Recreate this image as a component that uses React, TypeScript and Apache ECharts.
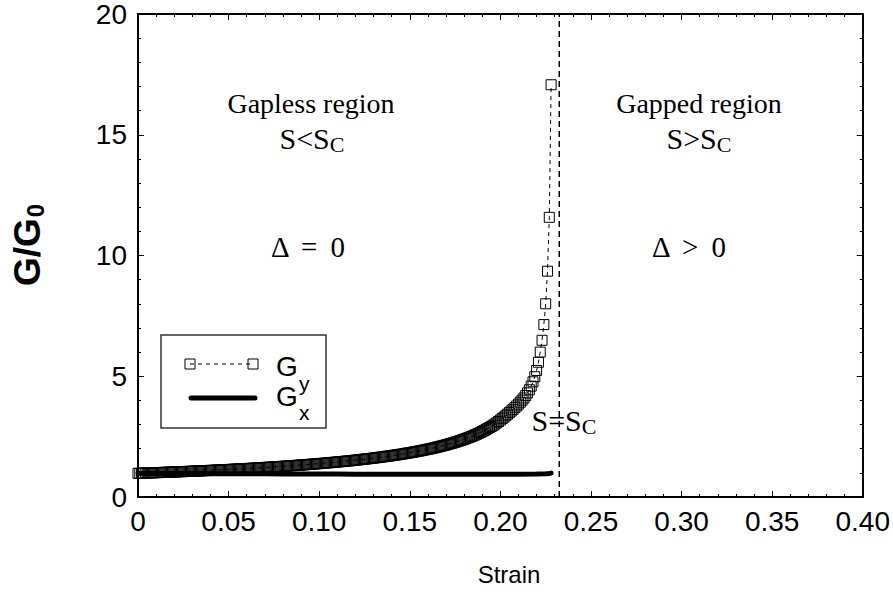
import React, { useEffect, useRef } from "react";
import * as echarts from "echarts";

// Strain values for G_y (step 0.001)
const strainY: number[] = [
  0.000, 0.001, 0.002, 0.003, 0.004, 0.005, 0.006, 0.007, 0.008, 0.009,
  0.010, 0.011, 0.012, 0.013, 0.014, 0.015, 0.016, 0.017, 0.018, 0.019,
  0.020, 0.021, 0.022, 0.023, 0.024, 0.025, 0.026, 0.027, 0.028, 0.029,
  0.030, 0.031, 0.032, 0.033, 0.034, 0.035, 0.036, 0.037, 0.038, 0.039,
  0.040, 0.041, 0.042, 0.043, 0.044, 0.045, 0.046, 0.047, 0.048, 0.049,
  0.050, 0.051, 0.052, 0.053, 0.054, 0.055, 0.056, 0.057, 0.058, 0.059,
  0.060, 0.061, 0.062, 0.063, 0.064, 0.065, 0.066, 0.067, 0.068, 0.069,
  0.070, 0.071, 0.072, 0.073, 0.074, 0.075, 0.076, 0.077, 0.078, 0.079,
  0.080, 0.081, 0.082, 0.083, 0.084, 0.085, 0.086, 0.087, 0.088, 0.089,
  0.090, 0.091, 0.092, 0.093, 0.094, 0.095, 0.096, 0.097, 0.098, 0.099,
  0.100, 0.101, 0.102, 0.103, 0.104, 0.105, 0.106, 0.107, 0.108, 0.109,
  0.110, 0.111, 0.112, 0.113, 0.114, 0.115, 0.116, 0.117, 0.118, 0.119,
  0.120, 0.121, 0.122, 0.123, 0.124, 0.125, 0.126, 0.127, 0.128, 0.129,
  0.130, 0.131, 0.132, 0.133, 0.134, 0.135, 0.136, 0.137, 0.138, 0.139,
  0.140, 0.141, 0.142, 0.143, 0.144, 0.145, 0.146, 0.147, 0.148, 0.149,
  0.150, 0.151, 0.152, 0.153, 0.154, 0.155, 0.156, 0.157, 0.158, 0.159,
  0.160, 0.161, 0.162, 0.163, 0.164, 0.165, 0.166, 0.167, 0.168, 0.169,
  0.170, 0.171, 0.172, 0.173, 0.174, 0.175, 0.176, 0.177, 0.178, 0.179,
  0.180, 0.181, 0.182, 0.183, 0.184, 0.185, 0.186, 0.187, 0.188, 0.189,
  0.190, 0.191, 0.192, 0.193, 0.194, 0.195, 0.196, 0.197, 0.198, 0.199,
  0.200, 0.201, 0.202, 0.203, 0.204, 0.205, 0.206, 0.207, 0.208, 0.209,
  0.210, 0.211, 0.212, 0.213, 0.214, 0.215, 0.216, 0.217, 0.218, 0.219,
  0.220, 0.221, 0.222, 0.223, 0.224, 0.225, 0.226, 0.227, 0.228,
];

const gyValues: number[] = [
  0.980, 0.983, 0.985, 0.988, 0.991, 0.993, 0.996, 0.999, 1.002, 1.004,
  1.007, 1.010, 1.013, 1.016, 1.019, 1.022, 1.025, 1.028, 1.031, 1.034,
  1.037, 1.040, 1.043, 1.046, 1.049, 1.052, 1.055, 1.058, 1.062, 1.065,
  1.068, 1.071, 1.075, 1.078, 1.082, 1.085, 1.088, 1.092, 1.095, 1.099,
  1.102, 1.106, 1.109, 1.113, 1.117, 1.120, 1.124, 1.128, 1.131, 1.135,
  1.139, 1.143, 1.147, 1.151, 1.155, 1.159, 1.162, 1.167, 1.171, 1.175,
  1.179, 1.183, 1.187, 1.192, 1.196, 1.200, 1.205, 1.209, 1.214, 1.218,
  1.223, 1.227, 1.232, 1.237, 1.241, 1.246, 1.251, 1.256, 1.261, 1.266,
  1.271, 1.276, 1.281, 1.286, 1.291, 1.297, 1.302, 1.307, 1.313, 1.318,
  1.324, 1.330, 1.335, 1.341, 1.347, 1.353, 1.359, 1.365, 1.371, 1.377,
  1.383, 1.389, 1.396, 1.402, 1.409, 1.416, 1.422, 1.429, 1.436, 1.443,
  1.450, 1.457, 1.464, 1.471, 1.479, 1.486, 1.494, 1.501, 1.509, 1.517,
  1.525, 1.533, 1.542, 1.550, 1.559, 1.567, 1.576, 1.585, 1.594, 1.603,
  1.612, 1.622, 1.631, 1.641, 1.651, 1.661, 1.671, 1.681, 1.692, 1.702,
  1.713, 1.724, 1.735, 1.746, 1.758, 1.770, 1.782, 1.794, 1.807, 1.820,
  1.833, 1.846, 1.860, 1.873, 1.887, 1.901, 1.916, 1.931, 1.946, 1.962,
  1.978, 1.994, 2.010, 2.027, 2.044, 2.062, 2.081, 2.100, 2.119, 2.138,
  2.158, 2.179, 2.200, 2.222, 2.245, 2.268, 2.291, 2.316, 2.341, 2.366,
  2.392, 2.419, 2.447, 2.476, 2.506, 2.537, 2.569, 2.603, 2.638, 2.674,
  2.711, 2.750, 2.791, 2.833, 2.876, 2.922, 2.969, 3.020, 3.072, 3.128,
  3.186, 3.245, 3.305, 3.365, 3.430, 3.495, 3.560, 3.630, 3.700, 3.770,
  3.845, 3.925, 4.010, 4.100, 4.200, 4.310, 4.440, 4.590, 4.770, 4.980,
  5.240, 5.580, 6.000, 6.490, 7.140, 8.000, 9.350, 11.580, 17.070,
];

const strainX: number[] = [
  0.00, 0.01, 0.02, 0.03, 0.04, 0.05, 0.06, 0.07, 0.08, 0.09, 0.10, 0.11,
  0.12, 0.13, 0.14, 0.15, 0.16, 0.17, 0.18, 0.19, 0.20, 0.21, 0.22, 0.225,
  0.227, 0.228,
];
const gxValues: number[] = [
  0.980, 0.975, 0.970, 0.968, 0.965, 0.962, 0.960, 0.958, 0.955, 0.953,
  0.951, 0.949, 0.947, 0.945, 0.944, 0.943, 0.942, 0.941, 0.940, 0.940,
  0.940, 0.942, 0.948, 0.960, 0.975, 0.990,
];

// critical strain S_C (dashed vertical line)
const SC = 0.2325;
const scLine: number[][] = [
  [SC, 0],
  [SC, 20],
];

const xTicks = { min: 0, max: 0.4, interval: 0.05 };
const yTicks = { min: 0, max: 20, interval: 5 };

const SERIF = '"Liberation Serif", "Times New Roman", serif';
const SANS = '"Liberation Sans", Arial, sans-serif';

export default function App() {
  const ref = useRef<HTMLDivElement>(null);

  useEffect(() => {
    if (!ref.current) return;
    const chart = echarts.init(ref.current, null, { renderer: "svg" });

    const axisCommon = {
      axisLine: { show: true, onZero: false, lineStyle: { color: "#000", width: 2 } },
      axisTick: { show: true, inside: true, length: 6, lineStyle: { color: "#000", width: 1 } },
      minorTick: { show: true, splitNumber: 5, length: 3, lineStyle: { color: "#000", width: 1 } },
      splitLine: { show: false },
      minorSplitLine: { show: false },
    };

    const serifText = (x: number, y: number, text: string, size: number) => ({
      type: "text",
      x,
      y,
      style: {
        text,
        font: `${size}px ${SERIF}`,
        fill: "#000",
        align: "center",
        verticalAlign: "middle",
        rich: {
          m: { fontSize: size, fontFamily: SERIF, fill: "#000" },
          c: { fontSize: Math.round(size * 0.72), fontFamily: SERIF, padding: [12, 0, 0, 0], fill: "#000" },
        },
      },
    });

    const plainText = (x: number, y: number, text: string, size: number, align = "left") => ({
      type: "text",
      x,
      y,
      style: {
        text,
        fontSize: size,
        fontFamily: SANS,
        fill: "#000",
        align,
        verticalAlign: "middle",
      },
      z: 11,
    });

    const option: any = {
      animation: false,
      backgroundColor: "#fff",
      grid: { left: 138, right: 30, top: 13, bottom: 99, containLabel: false },
      xAxis: [
        {
          type: "value",
          ...xTicks,
          position: "bottom",
          ...axisCommon,
          axisLabel: {
            show: true,
            color: "#000",
            fontSize: 28,
            fontFamily: SANS,
            margin: 10,
            formatter: (v: number) => (v === 0 ? "0" : v.toFixed(2)),
          },
        },
        {
          type: "value",
          ...xTicks,
          position: "top",
          ...axisCommon,
          axisLabel: { show: false },
        },
      ],
      yAxis: [
        {
          type: "value",
          ...yTicks,
          position: "left",
          ...axisCommon,
          axisLabel: {
            show: true,
            color: "#000",
            fontSize: 28,
            fontFamily: SANS,
            margin: 11,
          },
        },
        {
          type: "value",
          ...yTicks,
          position: "right",
          ...axisCommon,
          axisLabel: { show: false },
        },
      ],
      series: [
        {
          name: "Gx",
          type: "line",
          xAxisIndex: 0,
          yAxisIndex: 0,
          data: strainX.map((s, i) => [s, gxValues[i]]),
          showSymbol: false,
          symbol: "none",
          lineStyle: { color: "#000", width: 5, cap: "round" },
          z: 3,
        },
        {
          name: "Gy",
          type: "line",
          xAxisIndex: 0,
          yAxisIndex: 0,
          data: strainY.map((s, i) => [s, gyValues[i]]),
          symbol: "rect",
          symbolSize: 10,
          showAllSymbol: true,
          itemStyle: { color: "rgba(0,0,0,0)", borderColor: "#000", borderWidth: 1 },
          lineStyle: { color: "#000", width: 1, type: [4, 4] },
          z: 4,
        },
        {
          name: "Sc",
          type: "line",
          xAxisIndex: 0,
          yAxisIndex: 0,
          data: scLine,
          symbol: "none",
          lineStyle: { color: "#000", width: 1.5, type: [6, 4] },
          z: 2,
        },
      ],
      graphic: [
        serifText(311, 103, "{m|Gapless region}", 28),
        serifText(312, 138, "{m|S<S}{c|C}", 30),
        serifText(699, 103, "{m|Gapped region}", 28),
        serifText(699, 138, "{m|S>S}{c|C}", 30),
        serifText(308, 247, "{m|Δ \u2009=\u2009 0}", 29),
        serifText(689, 247, "{m|Δ \u2009>\u2009 0}", 29),
        serifText(564, 420, "{m|S=S}{c|C}", 30),
        plainText(509, 574, "Strain", 24, "center"),
        {
          type: "text",
          x: 27,
          y: 245,
          rotation: Math.PI / 2,
          style: {
            text: "{g|G/G}{s|0}",
            align: "center",
            verticalAlign: "middle",
            rich: {
              g: { fontSize: 37, fontWeight: "bold", fontFamily: SANS, fill: "#000" },
              s: { fontSize: 24, fontWeight: "bold", fontFamily: SANS, padding: [16, 0, 0, 1], fill: "#000" },
            },
          },
        },
        // legend
        {
          type: "rect",
          shape: { x: 161, y: 335, width: 165, height: 93 },
          style: { fill: "#fff", stroke: "#333", lineWidth: 1.5 },
          z: 10,
        },
        {
          type: "line",
          shape: { x1: 190, y1: 364, x2: 253, y2: 364 },
          style: { stroke: "#000", lineWidth: 1, lineDash: [4, 4] },
          z: 11,
        },
        {
          type: "rect",
          shape: { x: 185, y: 359, width: 10, height: 10 },
          style: { fill: "none", stroke: "#000", lineWidth: 1 },
          z: 11,
        },
        {
          type: "rect",
          shape: { x: 248, y: 359, width: 10, height: 10 },
          style: { fill: "none", stroke: "#000", lineWidth: 1 },
          z: 11,
        },
        {
          type: "line",
          shape: { x1: 191, y1: 398, x2: 255, y2: 398 },
          style: { stroke: "#000", lineWidth: 5, lineCap: "round" },
          z: 11,
        },
        plainText(276, 366, "G", 28),
        plainText(299, 383, "y", 21),
        plainText(276, 396, "G", 28),
        plainText(299, 412, "x", 21),
      ],
    };

    chart.setOption(option);
    return () => chart.dispose();
  }, []);

  return (
    <div
      ref={ref}
      style={{ position: "fixed", left: 0, top: 0, width: 893, height: 596, background: "#fff" }}
    />
  );
}
